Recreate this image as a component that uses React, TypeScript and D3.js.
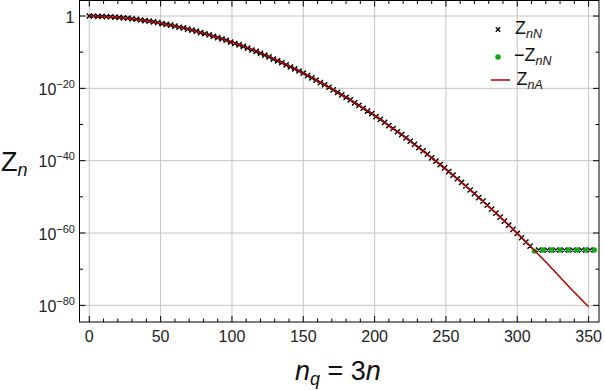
import React from "react";
import * as d3 from "d3";

// n_q positions of the numerical points (step 3)
const nqPositive: number[] = d3.range(0, 310, 3);
// log10 Z_nN
const logZnN: number[] = [
  0, -0.0, -0.1, -0.1, -0.2, -0.2, -0.3, -0.4, -0.5, -0.6,
  -0.8, -0.9, -1.1, -1.3, -1.4, -1.6, -1.8, -2.1, -2.3, -2.5,
  -2.8, -3.1, -3.3, -3.6, -3.9, -4.2, -4.6, -4.9, -5.2, -5.6,
  -6.0, -6.3, -6.7, -7.2, -7.6, -8.0, -8.4, -8.9, -9.4, -9.8,
  -10.3, -10.8, -11.3, -11.9, -12.4, -12.9, -13.5, -14.1, -14.6, -15.2,
  -15.8, -16.5, -17.1, -17.7, -18.4, -19.0, -19.7, -20.4, -21.1, -21.8,
  -22.5, -23.2, -24.0, -24.7, -25.5, -26.3, -27.0, -27.8, -28.6, -29.4,
  -30.3, -31.1, -32.0, -32.8, -33.7, -34.6, -35.5, -36.4, -37.3, -38.2,
  -39.2, -40.1, -41.1, -42.0, -43.0, -44.0, -45.0, -46.0, -47.0, -48.1,
  -49.1, -50.2, -51.2, -52.3, -53.4, -54.5, -55.6, -56.7, -57.8, -59.0,
  -60.1, -61.3, -62.5, -63.6,
];
// plateau (round-off) region: positive values
const nqPlateauPos: number[] = [315, 321, 327, 333, 339, 345, 351];
const logPlateauPos: number[] = [-64.7, -64.7, -64.7, -64.7, -64.7, -64.7, -64.7];
// negative values (plotted as -Z_nN)
const nqNeg: number[] = [312, 318, 324, 330, 336, 342, 348, 354];
const logNeg: number[] = [-65.0, -64.7, -64.7, -64.7, -64.7, -64.7, -64.7, -64.7];
// analytic Z_nA
const nqA: number[] = [0, 10, 20, 30, 40, 50, 60, 70, 80, 90, 100, 110, 120, 130, 140, 150, 160, 170, 180, 190, 200, 210, 220, 230, 240, 250, 260, 270, 280, 290, 300, 310, 320, 330, 340, 350];
const logZnA: number[] = [0, -0.1, -0.4, -0.8, -1.3, -2.0, -2.8, -3.7, -4.8, -6.0, -7.2, -8.6, -10.2, -11.9, -13.8, -15.8, -17.9, -20.2, -22.5, -25.0, -27.5, -30.3, -33.1, -36.1, -39.2, -42.4, -45.7, -49.1, -52.7, -56.3, -60.1, -64.0, -68.0, -72.2, -76.4, -80.4];

const xTicks: number[] = [0, 50, 100, 150, 200, 250, 300, 350];
const xMinor: number[] = d3.range(10, 360, 10).filter((v) => v % 50 !== 0);
const yTicksExp: number[] = [0, -20, -40, -60, -80];
const yMinorExp: number[] = [-10, -30, -50, -70];

const W = 604, H = 390;
const L = 79.5, R = 599, T = 0.5, B = 322;
const FONT = "'Liberation Sans', Arial, sans-serif";

export default function App() {
  const x = d3.scaleLinear().domain([-6.87, 357.3]).range([L, R]);
  const y = d3.scaleLog().domain([Math.pow(10, 4.29), Math.pow(10, -84.6)]).range([T, B]);
  const Y = (e: number) => y(Math.pow(10, e));

  const line = d3
    .line<number>()
    .x((_, i) => x(nqA[i]))
    .y((d) => Y(d))
    .curve(d3.curveMonotoneX);

  const xs = [
    ...nqPositive.map((n, i) => [n, logZnN[i]]),
    ...nqPlateauPos.map((n, i) => [n, logPlateauPos[i]]),
  ];
  const cross = (cx: number, cy: number, s = 2.6) =>
    `M${cx - s},${cy - s}L${cx + s},${cy + s}M${cx - s},${cy + s}L${cx + s},${cy - s}`;

  return (
    <svg width={W} height={H} style={{ position: "absolute", left: 0, top: 0, background: "#fff" }} fontFamily={FONT}>
      {/* grid */}
      <g stroke="#c4c4c4" strokeWidth={1}>
        {xTicks.map((t) => (
          <line key={"gx" + t} x1={x(t)} x2={x(t)} y1={T} y2={B} />
        ))}
        {yTicksExp.map((e) => (
          <line key={"gy" + e} x1={L} x2={R} y1={Y(e)} y2={Y(e)} />
        ))}
      </g>
      {/* ticks */}
      <g stroke="#000" strokeWidth={1}>
        {xTicks.map((t) => (
          <g key={"tx" + t}>
            <line x1={x(t)} x2={x(t)} y1={B} y2={B - 6} />
            <line x1={x(t)} x2={x(t)} y1={T} y2={T + 6} />
          </g>
        ))}
        {xMinor.map((t) => (
          <g key={"mx" + t}>
            <line x1={x(t)} x2={x(t)} y1={B} y2={B - 3.5} />
            <line x1={x(t)} x2={x(t)} y1={T} y2={T + 3.5} />
          </g>
        ))}
        {yTicksExp.map((e) => (
          <g key={"ty" + e}>
            <line x1={L} x2={L + 6} y1={Y(e)} y2={Y(e)} />
            <line x1={R} x2={R - 6} y1={Y(e)} y2={Y(e)} />
          </g>
        ))}
        {yMinorExp.map((e) => (
          <g key={"my" + e}>
            <line x1={L} x2={L + 3.5} y1={Y(e)} y2={Y(e)} />
            <line x1={R} x2={R - 3.5} y1={Y(e)} y2={Y(e)} />
          </g>
        ))}
      </g>
      {/* data: crosses */}
      <path
        d={xs.map(([n, v]) => cross(x(n), Y(v))).join("")}
        stroke="#000"
        strokeWidth={1.4}
        fill="none"
      />
      {/* data: negative values */}
      {nqNeg.map((n, i) => (
        <circle key={"g" + n} cx={x(n)} cy={Y(logNeg[i])} r={2.7} fill="#13a813" />
      ))}
      {/* analytic line */}
      <path d={line(logZnA) || ""} stroke="#b00000" strokeWidth={1.5} fill="none" />

      {/* frame */}
      <rect x={L} y={T} width={R - L} height={B - T} fill="none" stroke="#000" strokeWidth={1} />

      {/* tick labels */}
      <g fontSize={16} fill="#222">
        {xTicks.map((t) => (
          <text key={"lx" + t} x={x(t)} y={341.5} textAnchor="middle">
            {t}
          </text>
        ))}
        {yTicksExp.map((e) =>
          e === 0 ? (
            <text key={"ly" + e} x={74.5} y={Y(e) + 6.5} textAnchor="end">
              1
            </text>
          ) : (
            <text key={"ly" + e} x={75} y={Y(e) + 6.5} textAnchor="end">
              <tspan>10</tspan>
              <tspan dy={-7} fontSize={11}>{"\u2212" + Math.abs(e)}</tspan>
            </text>
          )
        )}
      </g>

      {/* axis titles */}
      <text x={295} y={380} fontSize={27} fill="#111">
        <tspan fontStyle="italic">n</tspan>
        <tspan fontStyle="italic" fontSize={18} dy={5}>q</tspan>
        <tspan dy={-5}> = 3</tspan>
        <tspan fontStyle="italic">n</tspan>
      </text>
      <text x={1} y={171} fontSize={27} fill="#111">
        <tspan>Z</tspan>
        <tspan fontStyle="italic" fontSize={18} dy={5}>n</tspan>
      </text>

      {/* legend */}
      <g fill="#111">
        <path d={cross(498, 29.5, 2.2)} stroke="#000" strokeWidth={1.3} />
        <text x={515} y={33.5} fontSize={18}>
          <tspan>Z</tspan>
          <tspan fontStyle="italic" fontSize={12.5} dy={4}>nN</tspan>
        </text>
        <circle cx={498} cy={57} r={2.8} fill="#13a813" />
        <text x={514} y={61} fontSize={18}>
          <tspan>{"\u2212Z"}</tspan>
          <tspan fontStyle="italic" fontSize={12.5} dy={4}>nN</tspan>
        </text>
        <line x1={491} x2={510} y1={80} y2={80} stroke="#b00000" strokeWidth={1.5} />
        <text x={516.5} y={85} fontSize={18}>
          <tspan>Z</tspan>
          <tspan fontStyle="italic" fontSize={12.5} dy={4}>nA</tspan>
        </text>
      </g>
    </svg>
  );
}
